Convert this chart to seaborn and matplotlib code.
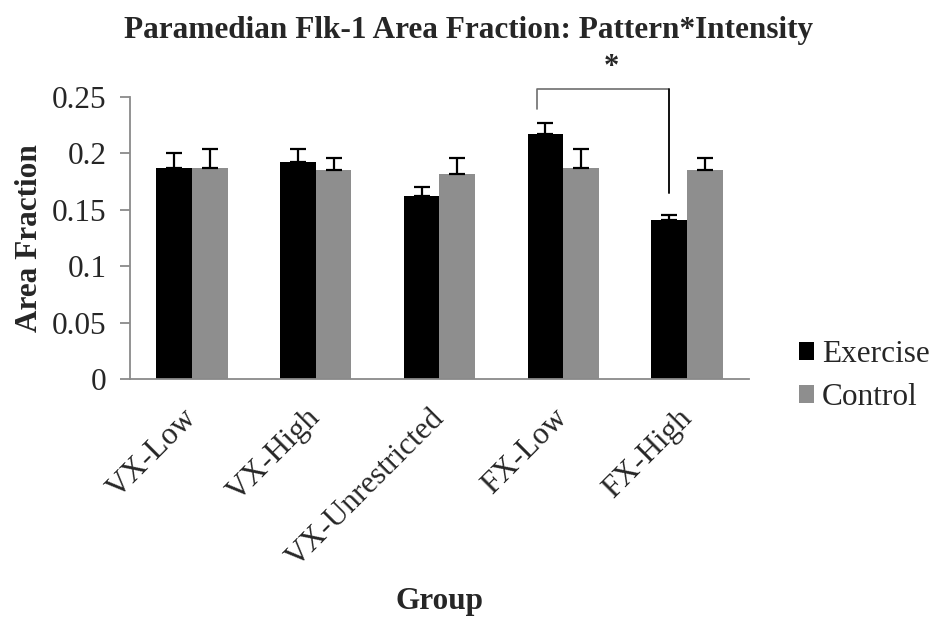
import pandas as pd
import matplotlib
matplotlib.use('Agg')
import matplotlib.pyplot as plt
import seaborn as sns

# Values
groups = ['VX-Low', 'VX-High', 'VX-Unrestricted', 'FX-Low', 'FX-High']
exercise = [0.187, 0.192, 0.162, 0.217, 0.141]
exercise_err = [0.013, 0.012, 0.008, 0.010, 0.0045]
control = [0.187, 0.185, 0.182, 0.187, 0.185]
control_err = [0.017, 0.011, 0.014, 0.017, 0.011]
yticks = [0, 0.05, 0.1, 0.15, 0.2, 0.25]
ytick_labels = ['0', '0.05', '0.1', '0.15', '0.2', '0.25']

# Significance bracket between FX-Low and FX-High exercise
bracket_top = 0.257
bracket_left_end = 0.239
bracket_right_end = 0.165
star_y = 0.276

df = pd.DataFrame({
    'Group': groups * 2,
    'Area Fraction': exercise + control,
    'Condition': ['Exercise'] * len(groups) + ['Control'] * len(groups),
})

sns.set_style('white')
plt.rcParams['font.family'] = ['Liberation Serif', 'DejaVu Serif']

fig = plt.figure(figsize=(9.36, 6.31), dpi=100)
ax = fig.add_axes([0.1389, 0.3994, 0.6613, 0.4469])

palette = {'Exercise': '#000000', 'Control': '#8e8e8e'}
sns.barplot(data=df, x='Group', y='Area Fraction', hue='Condition',
            palette=palette, width=0.576, gap=0, errorbar=None,
            saturation=1, linewidth=0, ax=ax)

# upper error bars only, like the original
centers = []
for container, cond in zip(ax.containers, ['Exercise', 'Control']):
    sub = df[df['Condition'] == cond]
    sub_err = exercise_err if cond == 'Exercise' else control_err
    xs = [p.get_x() + p.get_width() / 2 for p in container.patches]
    centers.append(xs)
    ax.errorbar(xs, sub['Area Fraction'], yerr=[[0] * len(xs), sub_err],
                fmt='none', ecolor='black', elinewidth=1.6, capsize=6,
                capthick=1.6, zorder=3)

ax.set_xlim(-0.5, len(groups) - 0.5)
ax.set_ylim(0, 0.25)
ax.set_yticks(yticks)
ax.set_yticklabels(ytick_labels, fontsize=22.5)
ax.set_xticks(range(len(groups)))
ax.set_xticklabels(groups, fontsize=22.5, rotation=45, ha='right',
                   va='center', rotation_mode='anchor')
ax.tick_params(axis='y', length=7, width=1.3, color='#8a8a8a', left=True, pad=10)
ax.tick_params(axis='x', length=0, pad=25)

sns.despine(ax=ax)
for s in ['left', 'bottom']:
    ax.spines[s].set_color('#8a8a8a')
    ax.spines[s].set_linewidth(1.3)

ax.set_ylabel('Area Fraction', fontsize=22.5, fontweight='bold', va='center')
ax.yaxis.set_label_coords(-0.162, 0.5)
ax.set_xlabel('Group', fontsize=22.5, fontweight='bold', va='center')
ax.xaxis.set_label_coords(0.5, -0.79)

# significance bracket
x_left = centers[0][3] - 0.07
x_right = centers[0][4]
ax.plot([x_left, x_left, x_right, x_right],
        [bracket_left_end, bracket_top, bracket_top, bracket_right_end],
        color='#6e6e6e', lw=1.2, clip_on=False)
ax.plot([x_right, x_right], [bracket_top, bracket_right_end],
        color='black', lw=1.2, clip_on=False)
ax.text((x_left + x_right) / 2 + 0.07, star_y, '*', fontsize=22,
        fontweight='bold', ha='center', va='center')

fig.text(0.5, 0.952, 'Paramedian Flk-1 Area Fraction: Pattern*Intensity',
         fontsize=22.5, fontweight='bold', ha='center', va='center')

leg = ax.legend(loc='center left', bbox_to_anchor=(1.08, 0.01), frameon=False,
                fontsize=22.5, handlelength=0.5, handleheight=0.5,
                handletextpad=0.25, labelspacing=0.45, borderaxespad=0,
                borderpad=0)

fig.savefig('out.png', dpi=100)
